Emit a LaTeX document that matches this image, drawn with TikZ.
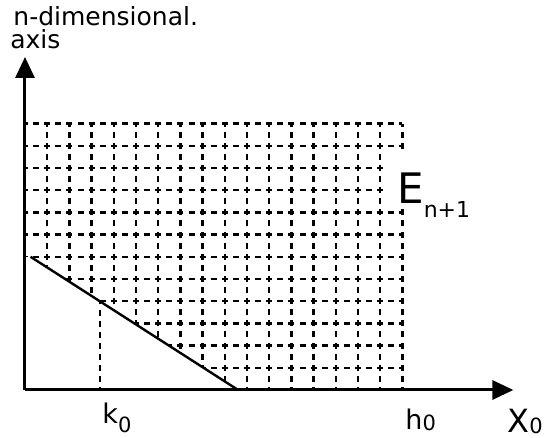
\documentclass[tikz,border=0pt]{standalone}
\usepackage{fontspec}
\setmainfont{DejaVu Sans}
\usetikzlibrary{arrows.meta}

\begin{document}
\begin{tikzpicture}[
    x=11.1pt, y=11.1pt,
    axis/.style={line width=1.5pt, -{Triangle[length=10.5pt,width=9.5pt]}},
    bound/.style={line width=1.2pt},
    gridline/.style={line width=1.2pt, dash pattern=on 3pt off 2.55pt,
                     dash phase=1.5pt},
    lbl/.style={inner sep=0pt, anchor=base west,
                font=\fontsize{12.5}{14}\selectfont}
  ]
  \useasboundingbox (-12.5pt,-24pt) rectangle (260.5pt,195pt);
  \coordinate (O)    at (0,0);
  \coordinate (ytip) at (0,15);
  \coordinate (xtip) at (22,0);
  \coordinate (b1)   at (0.25,6);
  \coordinate (b2)   at (9.6,0);
  \coordinate (k0)   at (3.38,0);
  \coordinate (ktop) at (3.38,3.99);
  \begin{scope}
    \clip (-0.5,12.5) -- (17.5,12.5) -- (17.5,10.7) -- (16.3,10.7)
      -- (16.3,8.3) -- (17.5,8.3) -- (17.5,0) -- (b2) -- (b1)
      -- (-0.5,6) -- cycle;
    \draw[gridline] (0,0) grid[step=1] (17,12);
  \end{scope}
  \draw[bound] (b1) -- (b2);
  \draw[gridline] (ktop) -- (k0);
  \draw[axis] (O) -- (ytip);
  \draw[axis] (O) -- (xtip);
  \node[lbl] (dim)  at (-0.54,16.44) {n-dimensional.};
  \node[lbl] (axl)  at (-0.68,15.4)  {axis};
  \node[lbl, font=\fontsize{21}{24}\selectfont] (E) at (16.75,8.42)
    {E\raisebox{-7pt}{\fontsize{11}{12}\selectfont n+1}};
  \node[lbl, font=\fontsize{13.5}{15}\selectfont] (klab) at (3.47,-1.49)
    {k\raisebox{-4.5pt}{\fontsize{10.5}{12}\selectfont 0}};
  \node[lbl, font=\fontsize{13.5}{15}\selectfont] (hlab) at (17.12,-1.8)
    {h\raisebox{-0.5pt}{\fontsize{10.5}{12}\selectfont 0}};
  \node[lbl, font=\fontsize{16}{18}\selectfont] (xlab) at (21.71,-1.92)
    {X\raisebox{-0.5pt}{\fontsize{10.5}{12}\selectfont 0}};
\end{tikzpicture}
\end{document}
